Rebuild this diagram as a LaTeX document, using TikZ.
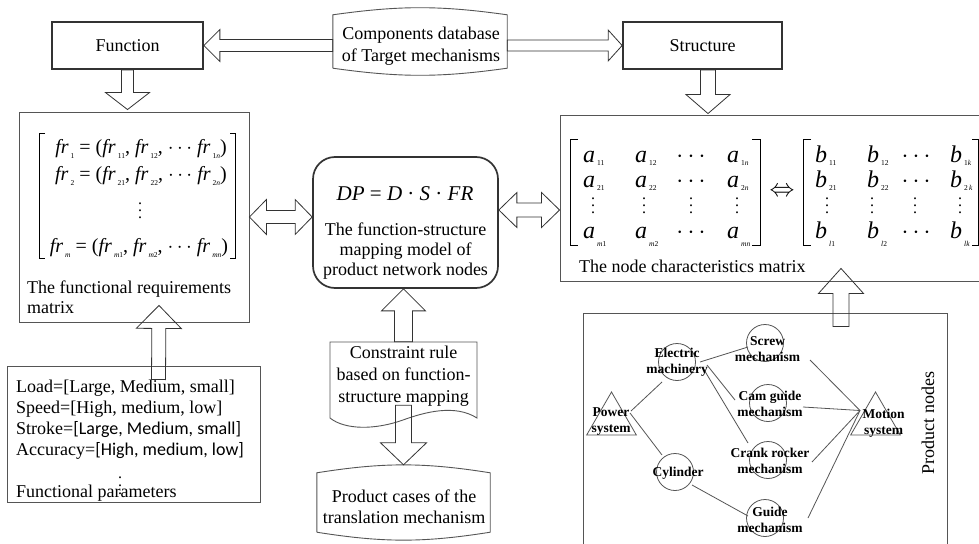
\documentclass[tikz,border=0pt]{standalone}
\usepackage{fontspec}
\setmainfont{Liberation Serif}
\newfontfamily\calibri{Carlito}
\usetikzlibrary{calc,shapes.geometric}
\definecolor{ln}{HTML}{555555}
\definecolor{dk}{HTML}{333333}
\newcommand\ent[3][3]{\textit{#2}\kern2pt\raisebox{-#1pt}{\fontsize{7.5}{8}\selectfont #3}}
\newcommand\vd[1]{\vbox{\baselineskip#1pt\lineskiplimit0pt\hbox{.}\hbox{.}\hbox{.}}}
% block arrow: tail #1, tip #2, shaft half #3, head half #4, head length #5
\newcommand\barrow[5]{%
 \coordinate (bh) at ($(#2)!#5pt!(#1)$);
 \draw[blk] ($(#1)!#3pt!90:(#2)$) -- ($(bh)!#3pt!90:(#2)$) -- ($(bh)!#4pt!90:(#2)$) -- (#2)
   -- ($(bh)!#4pt!-90:(#2)$) -- ($(bh)!#3pt!-90:(#2)$) -- ($(#1)!#3pt!-90:(#2)$) -- cycle;}
% double block arrow between #1 and #2
\newcommand\dbarrow[5]{%
 \coordinate (bha) at ($(#1)!#5pt!(#2)$);
 \coordinate (bhb) at ($(#2)!#5pt!(#1)$);
 \draw[blk] (#1) -- ($(bha)!#4pt!90:(#2)$) -- ($(bha)!#3pt!90:(#2)$) -- ($(bhb)!#3pt!-90:(#1)$)
   -- ($(bhb)!#4pt!-90:(#1)$) -- (#2) -- ($(bhb)!#4pt!90:(#1)$) -- ($(bhb)!#3pt!90:(#1)$)
   -- ($(bha)!#3pt!-90:(#2)$) -- ($(bha)!#4pt!-90:(#2)$) -- cycle;}
\tikzset{
 kbox/.style={draw=dk, line width=1.7pt},
 gbox/.style={draw=ln, line width=0.9pt},
 blk/.style={draw=dk, line width=0.8pt, line join=miter},
 brk/.style={draw=black, line width=0.8pt},
 txt/.style={anchor=base},
 ltxt/.style={anchor=base west},
 lbl/.style={font=\fontsize{13.5}{16}\selectfont\bfseries, align=center},
 circ/.style={circle, draw=ln, line width=0.8pt, minimum size=37pt},
 tri/.style={regular polygon, regular polygon sides=3, draw=ln, line width=0.8pt, minimum size=57.4pt},
 wire/.style={draw=ln, line width=0.8pt},
 mx/.style={font=\fontsize{24}{24}\selectfont, anchor=base west},
 mxc/.style={font=\fontsize{24}{24}\selectfont},
 vdn/.style={font=\fontsize{16}{16}\selectfont},
 fm/.style={font=\fontsize{20}{20}\selectfont, anchor=base},
}
\begin{document}
\begin{tikzpicture}[x=1pt,y=-1pt, every node/.style={font=\fontsize{18}{21}\selectfont, inner sep=0pt}]
\useasboundingbox (0,0) rectangle (979,543);
\fill[white] (0,0) rectangle (979,543);

% ---- top row
\node[kbox, minimum width=151pt, minimum height=47pt] (func) at (127.5,45.5) {Function};
\node[kbox, minimum width=159pt, minimum height=47pt] (struct) at (702.5,45.5) {Structure};
\node[minimum width=174pt, minimum height=53pt] (db) at (420,41.5) {};
\draw[gbox] (db.south west) -- (db.north west) to[bend left=8] (db.north east) -- (db.south east) to[bend left=8] (db.south west);
\node[txt] (db1) at (421,40) {Components database};
\node[txt] (db2) at (421,61) {of Target mechanisms};

% ---- left matrix box
\node[gbox, minimum width=230pt, minimum height=210pt] (lmat) at (134,217) {};
\draw[brk] (45,133) -- (39,133) -- (39,258) -- (45,258);
\draw[brk] (230,133) -- (235,133) -- (235,258) -- (230,258);
\node[fm] (fr1) at (141,153) {\ent[5]{fr}{1} = (\ent[5]{fr}{11}, \ent[5]{fr}{12}, $\cdots$ \ent[5]{fr}{1\textit{n}})};
\node[fm] (fr2) at (141,180) {\ent[5]{fr}{2} = (\ent[5]{fr}{21}, \ent[5]{fr}{22}, $\cdots$ \ent[5]{fr}{2\textit{n}})};
\node[vdn] (frd) at (140,211) {\vd{7}};
\node[fm] (frm) at (139,252) {\ent[5]{fr}{\textit{m}} = (\ent[5]{fr}{\textit{m}1}, \ent[5]{fr}{\textit{m}2}, $\cdots$ \ent[5]{fr}{\textit{mn}})};
\node[ltxt] (lc1) at (27,293) {The functional requirements};
\node[ltxt] (lc2) at (27,313) {matrix};

% ---- centre model box
\node[kbox, rounded corners=22pt, minimum width=185pt, minimum height=131pt] (cen) at (405.5,222.5) {};
\node[txt, font=\fontsize{21}{21}\selectfont] (dp) at (405,200) {\textit{DP} = \textit{D} · \textit{S} · \textit{FR}};
\node[txt] (c1) at (405.5,235) {The function-structure};
\node[txt] (c2) at (405.5,255) {mapping model of};
\node[txt] (c3) at (405.5,275) {product network nodes};

% ---- right matrix box
\node[gbox, minimum width=422pt, minimum height=166pt] (rmat) at (771,198) {};
\draw[brk] (578,139) -- (570,139) -- (570,245) -- (578,245);
\draw[brk] (752,139) -- (760,139) -- (760,245) -- (752,245);
\draw[brk] (811,139) -- (803,139) -- (803,245) -- (811,245);
\draw[brk] (972,139) -- (978.5,139) -- (978.5,245) -- (972,245);
\foreach \x/\y/\t [count=\i] in {583/162/{\ent{a}{11}}, 635/162/{\ent{a}{12}}, 727/162/{\ent{a}{1\textit{n}}},
  583/187/{\ent{a}{21}}, 635/187/{\ent{a}{22}}, 727/187/{\ent{a}{2\textit{n}}},
  583/238/{\ent[8]{a}{\textit{m}1}}, 635/238/{\ent[8]{a}{\textit{m}2}}, 727/238/{\ent[8]{a}{\textit{mn}}},
  815/162/{\ent{b}{11}}, 867/162/{\ent{b}{12}}, 950/162/{\ent{b}{1\textit{k}}},
  815/187/{\ent{b}{21}}, 867/187/{\ent{b}{22}}, 950/187/{\ent{b}{2\,\textit{k}}},
  815/238/{\ent[8]{b}{\textit{l}1}}, 867/238/{\ent[8]{b}{\textit{l}2}}, 950/238/{\ent[8]{b}{\textit{lk}}}}
  \node[mx] (m\i) at (\x,\y) {\t};
\foreach \x/\y [count=\i] in {691/162, 691/187, 691/238, 916/162, 916/187, 916/238}
  \node[mxc, anchor=base] (cd\i) at (\x,\y) {$\cdots$};
\foreach \x [count=\i] in {593, 644, 691, 737, 827, 872, 915, 960}
  \node[vdn] (vd\i) at (\x,206) {\vd{7}};
\node[mxc] (iff) at (782,192) {$\Leftrightarrow$};
\node[ltxt] (rc) at (579,272) {The node characteristics matrix};

% ---- constraint document
\node[minimum width=147pt, minimum height=76pt] (con) at (403.5,380) {};
\draw[gbox] (330,418) -- (330,342) -- (477,342) -- (477,418)
  .. controls (455,404) and (425,412) .. (403,420) .. controls (375,430) and (345,430) .. (330,418) -- cycle;
\node[txt] (k1) at (403.5,358) {Constraint rule};
\node[txt] (k2) at (403.5,380) {based on function-};
\node[txt] (k3) at (403.5,402) {structure mapping};

% ---- product cases
\node[minimum width=173pt, minimum height=59pt] (pc) at (403.5,502.5) {};
\draw[gbox] (pc.south west) -- (pc.north west) to[bend left=9] (pc.north east) -- (pc.south east) to[bend left=9] (pc.south west);
\node[txt] (pc1) at (404,502) {Product cases of the};
\node[txt] (pc2) at (404,523) {translation mechanism};

% ---- functional parameters
\node[gbox, minimum width=253pt, minimum height=136pt] (par) at (133.5,434) {};
\node[ltxt] (p1) at (16,392) {Load=[Large, Medium, small]};
\node[ltxt] (p2) at (16,413) {Speed=[High, medium, low]};
\node[ltxt] (p3) at (16,434) {Stroke={\calibri[Large, Medium, small]}};
\node[ltxt] (p4) at (16,455) {Accuracy={\calibri[High, medium, low]}};
\node[ltxt] (p5) at (16,497) {Functional parameters};
\node[vdn] (pd) at (120,486) {\vd{8}};

% ---- product nodes
\node[gbox, minimum width=364pt, minimum height=247pt] (pn) at (765,436.5) {};
\node[rotate=90] (pnl) at (928,423) {Product nodes};
\node[circ] (ce) at (677,362) {};
\node[circ] (cs) at (765,343) {};
\node[circ] (cc) at (768,403) {};
\node[circ] (ck) at (768,460) {};
\node[circ] (cg) at (765,518) {};
\node[circ] (cy) at (675,472) {};
\node[tri] (tp) at (611.5,420.7) {};
\node[tri] (tm) at (875.5,420.7) {};
\coordinate (w1a) at (631,411); \coordinate (w1b) at (662,382);
\coordinate (w2a) at (630,413); \coordinate (w2b) at (662,455);
\coordinate (w3a) at (700,362); \coordinate (w3b) at (748,347);
\coordinate (w4a) at (707,365); \coordinate (w4b) at (735,400);
\coordinate (w5a) at (703,368); \coordinate (w5b) at (748,443);
\coordinate (w6a) at (692,485); \coordinate (w6b) at (748,516);
\coordinate (w7a) at (810,360); \coordinate (mo) at (860,410.5);
\coordinate (w8a) at (803,407);
\coordinate (w9a) at (812,462);
\coordinate (w10a) at (808,518);
\draw[wire] (w1a) -- (w1b);
\draw[wire] (w2a) -- (w2b);
\draw[wire] (w3a) -- (w3b);
\draw[wire] (w4a) -- (w4b);
\draw[wire] (w5a) -- (w5b);
\draw[wire] (w6a) -- (w6b);
\draw[wire] (w7a) -- (mo);
\draw[wire] (w8a) -- (mo);
\draw[wire] (w9a) -- (mo);
\draw[wire] (w10a) -- (mo);
\node[lbl] (le) at (677,362.5) {Electric\\machinery};
\node[lbl] (ls) at (767.5,349) {Screw\\mechanism};
\node[lbl] (lcg) at (770,404) {Cam guide\\mechanism};
\node[lbl] (lk) at (770,461) {Crank rocker\\mechanism};
\node[lbl] (lg) at (770,520) {Guide\\mechanism};
\node[lbl] (ly) at (678,473) {Cylinder};
\node[lbl] (lp) at (611,422) {Power\\system};
\node[lbl] (lm) at (883.5,423) {Motion\\system};

% ---- block arrows (outlined, not filled)
\coordinate (a1t) at (db.west |- func.east);
\barrow{a1t}{func.east}{6}{16}{16}
\coordinate (a2t) at (db.east |- struct.west);
\barrow{a2t}{struct.west}{5.5}{15.5}{14}
\coordinate (a3h) at ($(func.south |- lmat.north)+(0,-2)$);
\barrow{func.south}{a3h}{6}{22}{17}
\coordinate (a4t) at ($(struct.south)+(5.5,0)$);
\coordinate (a4h) at ($(a4t |- rmat.north)+(0,-1)$);
\barrow{a4t}{a4h}{7.5}{22}{19}
\coordinate (a5b) at (lmat.east -| cen.west);
\dbarrow{lmat.east}{a5b}{6.5}{17.5}{17}
\coordinate (a6a) at ($(cen.east)+(0,-12.5)$);
\coordinate (a6b) at (a6a -| rmat.west);
\dbarrow{a6a}{a6b}{7}{17.5}{18}
\coordinate (a7h) at (con.north |- cen.south);
\barrow{con.north}{a7h}{9}{22}{22}
\coordinate (a8t) at ($(con.south)+(0,-13)$);
\coordinate (a8h) at ($(pc.north)+(0,-8)$);
\barrow{a8t}{a8h}{8}{23}{22}
\coordinate (a9t) at ($(par.north)+(25,14)$);
\coordinate (a9h) at ($(lmat.south)+(25,-17)$);
\barrow{a9t}{a9h}{7}{22.5}{23}
\coordinate (a10t) at ($(pn.north)+(76,14)$);
\coordinate (a10h) at ($(rmat.south)+(70,-13)$);
\barrow{a10t}{a10h}{8}{22.5}{25}
\end{tikzpicture}
\end{document}
